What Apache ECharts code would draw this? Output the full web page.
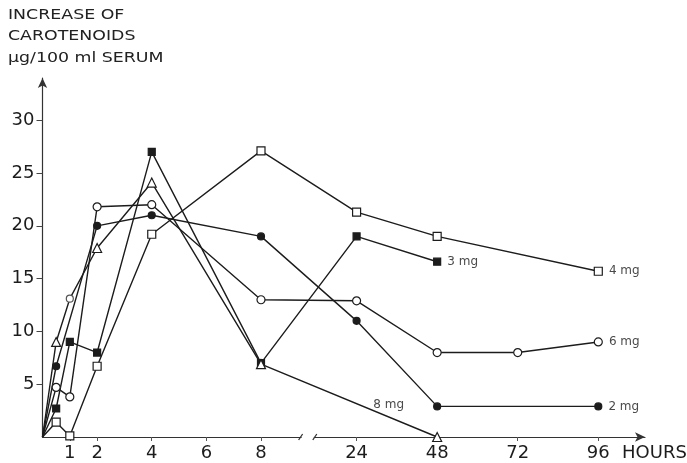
<!DOCTYPE html>
<html>
<head>
<meta charset="utf-8">
<title>Increase of carotenoids in serum</title>
<script src="https://cdn.jsdelivr.net/npm/echarts@6/dist/echarts.min.js"></script>
<style>
  html, body { margin: 0; padding: 0; background: #fff; }
  #chart { width: 687px; height: 463px; }
</style>
</head>
<body>
<div id="chart"></div>
<script>
// Time points (hours) and serum carotenoid increase (µg/100 ml) per dose
const hours2mg = [0, 0.5, 2, 4, 8, 24, 48, 96];
const serum2mg = [0, 6.7, 20, 21, 19, 11, 2.9, 2.9];

const hours3mg = [0, 0.5, 1, 2, 4, 8, 24, 48];
const serum3mg = [0, 2.7, 9, 8, 27, 7, 19, 16.6];

const hours4mg = [0, 0.5, 1, 2, 4, 8, 24, 48, 96];
const serum4mg = [0, 1.4, 0.1, 6.7, 19.2, 27.1, 21.3, 19, 15.7];

const hours6mg = [0, 0.5, 1, 2, 4, 8, 24, 48, 72, 96];
const serum6mg = [0, 4.7, 3.8, 21.8, 22, 13, 12.9, 8, 8, 9];

const hours8mg = [0, 0.5, 1, 2, 4, 8, 48];
const serum8mg = [0, 9.0, 13.1, 17.9, 24.1, 6.9, 0];

const hourTicks = [1, 2, 4, 6, 8, 24, 48, 72, 96];
const valueTicks = [5, 10, 15, 20, 25, 30];

// Piecewise time scale: first 8 h spread out, then a break, then 24 h steps compressed
function toPos(h) {
  return h <= 8 ? h : 11.5 + (h - 24) * 2.95 / 24;
}
const posToHour = {};
hourTicks.forEach(h => { posToHour[toPos(h).toFixed(3)] = h; });

const FONT = 'DejaVu Sans';
const INK = '#1c1c1c';

// Each curve starts at the origin without a marker
function pairs(hs, vs) {
  return hs.map((h, i) => {
    const p = [toPos(h), vs[i]];
    return h === 0 ? { value: p, symbol: 'none' } : p;
  });
}

function endLabel(data, text, extra) {
  const last = data[data.length - 1];
  data[data.length - 1] = {
    value: last,
    label: Object.assign({
      show: true, formatter: text, position: 'right', distance: 6,
      color: '#4a4a4a', fontFamily: FONT, fontSize: 12
    }, extra || {})
  };
  return data;
}

function lineSeries(name, data, symbol, size, filled) {
  return {
    name: name,
    type: 'line',
    data: data,
    symbol: symbol,
    symbolSize: size,
    showAllSymbol: true,
    animation: false,
    lineStyle: { color: INK, width: 1.4 },
    itemStyle: {
      color: filled ? INK : '#fff',
      borderColor: INK,
      borderWidth: 1.2
    },
    z: 3
  };
}

const d8 = pairs(hours8mg, serum8mg);
// the 1 h reading of this dose is marked with a grey ring
d8[2] = { value: d8[2], symbol: 'circle', symbolSize: 7,
  itemStyle: { color: '#fff', borderColor: '#555', borderWidth: 1.2 } };

const chart = echarts.init(document.getElementById('chart'), null, { renderer: 'canvas' });

const option = {
  backgroundColor: '#fff',
  animation: false,
  grid: {
    left: 42.5, right: 42, top: 78, bottom: 26,
    containLabel: false, outerBoundsMode: 'none'
  },
  xAxis: {
    type: 'value',
    min: 0,
    max: 22.06,
    name: 'HOURS',
    nameLocation: 'end',
    nameGap: -23,
    nameTextStyle: {
      fontFamily: FONT, fontSize: 18, color: INK,
      align: 'left', verticalAlign: 'top', padding: [7, 0, 0, 0]
    },
    axisLine: {
      show: true, onZero: false,
      symbol: ['none', 'arrow'], symbolSize: [7, 10],
      lineStyle: { color: '#333', width: 1.2 }
    },
    axisTick: {
      show: true, length: 4, inside: false,
      customValues: hourTicks.map(toPos),
      lineStyle: { color: '#555', width: 1 }
    },
    axisLabel: {
      show: true,
      customValues: hourTicks.map(toPos),
      margin: 7,
      fontFamily: FONT, fontSize: 18, color: INK,
      formatter: v => String(posToHour[v.toFixed(3)] ?? '')
    },
    splitLine: { show: false }
  },
  yAxis: {
    type: 'value',
    min: 0,
    max: 34,
    axisLine: {
      show: true, onZero: false,
      symbol: ['none', 'arrow'], symbolSize: [7, 10],
      lineStyle: { color: '#333', width: 1.2 }
    },
    axisTick: {
      show: true, length: 6,
      customValues: valueTicks,
      lineStyle: { color: '#444', width: 1 }
    },
    axisLabel: {
      show: true,
      customValues: valueTicks,
      margin: 8,
      fontFamily: FONT, fontSize: 18, color: INK
    },
    splitLine: { show: false }
  },
  series: [
    lineSeries('2 mg', endLabel(pairs(hours2mg, serum2mg), '2 mg'), 'circle', 7, true),
    lineSeries('3 mg', endLabel(pairs(hours3mg, serum3mg), '3 mg'), 'rect', 7, true),
    lineSeries('4 mg', endLabel(pairs(hours4mg, serum4mg), '4 mg'), 'rect', 8, false),
    lineSeries('6 mg', endLabel(pairs(hours6mg, serum6mg), '6 mg'), 'circle', 8, false),
    lineSeries('8 mg', endLabel(d8, '8 mg', { position: 'left', offset: [-22, -32] }), 'triangle', 9, false)
  ]
};

chart.setOption(option);

// Title lines and the axis-break mark between 8 h and 24 h
function decorate() {
  const base = chart.convertToPixel({ gridIndex: 0 }, [0, 0]);
  const b1 = chart.convertToPixel({ gridIndex: 0 }, [9.45, 0]);
  const b2 = chart.convertToPixel({ gridIndex: 0 }, [9.97, 0]);
  const y0 = base[1];
  const titleLines = ['INCREASE OF', 'CAROTENOIDS', 'µg/100 ml SERUM'];
  const titleEls = titleLines.map((t, i) => ({
    type: 'text',
    x: 8, y: 22 + i * 21.7,
    scaleX: 1.24,
    style: {
      text: t, fontFamily: FONT, fontSize: 14, fill: '#222',
      textVerticalAlign: 'bottom', verticalAlign: 'bottom'
    },
    z: 10
  }));
  chart.setOption({
    graphic: [
      ...titleEls,
      {
        type: 'rect',
        shape: { x: b1[0] + 1, y: y0 - 3, width: b2[0] - b1[0] - 2, height: 6 },
        style: { fill: '#fff' },
        z: 20
      },
      {
        type: 'line',
        shape: { x1: b1[0] - 2, y1: y0 + 3, x2: b1[0] + 2, y2: y0 - 3 },
        style: { stroke: '#333', lineWidth: 1.3 },
        z: 21
      },
      {
        type: 'line',
        shape: { x1: b2[0] - 2, y1: y0 + 3, x2: b2[0] + 2, y2: y0 - 3 },
        style: { stroke: '#333', lineWidth: 1.3 },
        z: 21
      }
    ]
  });
}
decorate();
</script>
</body>
</html>
